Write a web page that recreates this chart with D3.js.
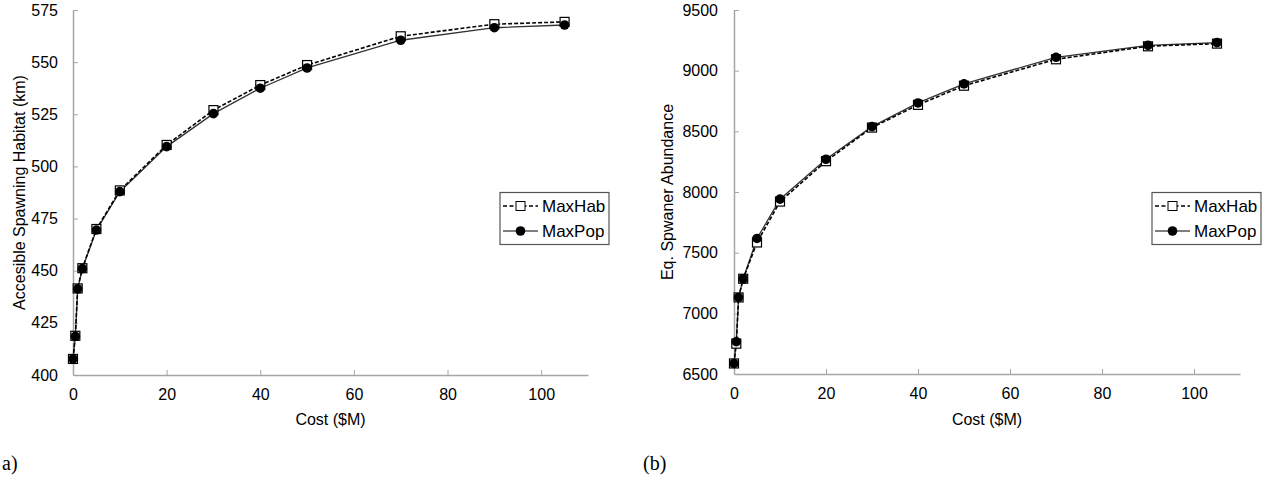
<!DOCTYPE html>
<html>
<head>
<meta charset="utf-8">
<script src="https://cdn.jsdelivr.net/npm/d3@7"></script>
<style>
  body { margin: 0; background: #fff; }
  svg { display: block; }
  .tick text { font-family: "Liberation Sans", Arial, sans-serif; font-size: 16px; fill: #000; }
</style>
</head>
<body>
<svg id="chart" width="1268" height="477"></svg>
<script>
const cost = [0, 0.5, 1, 2, 5, 10, 20, 30, 40, 50, 70, 90, 105];

const habitatMaxHab = [407.7, 418.8, 441.5, 451.2, 470, 488.5, 510.3, 527, 539, 548.6, 562.4, 568.2, 569.3];
const habitatMaxPop = [407.7, 418.5, 441.3, 451, 469.5, 487.9, 509.5, 525.3, 537.5, 547.2, 560.5, 566.5, 567.8];

const abundMaxHab = [6587, 6750, 7131, 7285, 7584, 7921, 8254, 8531, 8718, 8876, 9094, 9201, 9223];
const abundMaxPop = [6587, 6766, 7131, 7285, 7617, 7941, 8270, 8539, 8734, 8891, 9110, 9209, 9231];

const xTicks = [0, 20, 40, 60, 80, 100];
const habitatTicks = [400, 425, 450, 475, 500, 525, 550, 575];
const abundTicks = [6500, 7000, 7500, 8000, 8500, 9000, 9500];

const seriesNames = ["MaxHab", "MaxPop"];

const svg = d3.select("#chart");
const sans = '"Liberation Sans", Arial, sans-serif';

// one panel per measure
const panels = [
  {
    left: 73, right: 588, top: 10, bottom: 375,
    yDomain: [400, 575], yTicks: habitatTicks,
    hab: habitatMaxHab, pop: habitatMaxPop,
    yTitle: "Accesible Spawning Habitat (km)", yTitleX: 25, yPad: 15,
    legendX: 500, tag: "a)", tagX: 2
  },
  {
    left: 734, right: 1240, top: 10, bottom: 374,
    yDomain: [6500, 9500], yTicks: abundTicks,
    hab: abundMaxHab, pop: abundMaxPop,
    yTitle: "Eq. Spwaner Abundance", yTitleX: 673, yPad: 16,
    legendX: 1152, tag: "(b)", tagX: 643
  }
];

panels.forEach((p) => {
  const x = d3.scaleLinear().domain([0, 110]).range([p.left, p.right]);
  const y = d3.scaleLinear().domain(p.yDomain).range([p.bottom, p.top]);

  const g = svg.append("g");

  const xAxis = g.append("g")
    .attr("transform", `translate(0,${p.bottom})`)
    .call(d3.axisBottom(x).tickValues(xTicks).tickFormat(d3.format("d"))
      .tickSize(-5).tickSizeOuter(0).tickPadding(14));

  const yAxis = g.append("g")
    .attr("transform", `translate(${p.left},0)`)
    .call(d3.axisLeft(y).tickValues(p.yTicks).tickFormat(d3.format("d"))
      .tickSize(-5).tickSizeOuter(0).tickPadding(p.yPad));

  [xAxis, yAxis].forEach((a) => {
    a.select(".domain").attr("stroke", "#a6a6a6").attr("stroke-width", 1.5);
    a.selectAll(".tick line").attr("stroke", "#a6a6a6");
  });
  yAxis.selectAll(".tick")
    .filter((d) => d === p.yDomain[0])
    .select("line").remove();
  xAxis.selectAll(".tick")
    .filter((d) => d === 0)
    .select("line").remove();

  g.append("text")
    .attr("x", (p.left + p.right) / 2)
    .attr("y", 425)
    .attr("text-anchor", "middle")
    .style("font-family", sans)
    .style("font-size", "16px")
    .text("Cost ($M)");

  g.append("text")
    .attr("transform", `translate(${p.yTitleX},${(p.top + p.bottom) / 2}) rotate(-90)`)
    .attr("text-anchor", "middle")
    .style("font-family", sans)
    .style("font-size", "16px")
    .text(p.yTitle);

  const habPts = cost.map((c, i) => [c, p.hab[i]]);
  const popPts = cost.map((c, i) => [c, p.pop[i]]);
  const line = d3.line().x((d) => x(d[0])).y((d) => y(d[1]));

  g.append("path")
    .attr("d", line(popPts))
    .attr("fill", "none")
    .attr("stroke", "#333")
    .attr("stroke-width", 1.3);

  g.append("path")
    .attr("d", line(habPts))
    .attr("fill", "none")
    .attr("stroke", "#000")
    .attr("stroke-width", 1.6)
    .attr("stroke-dasharray", "4,2");

  g.selectAll(".sq")
    .data(habPts)
    .enter()
    .append("rect")
    .attr("class", "sq")
    .attr("x", (d) => x(d[0]) - 4.5)
    .attr("y", (d) => y(d[1]) - 4.5)
    .attr("width", 9)
    .attr("height", 9)
    .attr("fill", "#fff")
    .attr("stroke", "#000")
    .attr("stroke-width", 1.2);

  g.selectAll(".dot")
    .data(popPts)
    .enter()
    .append("circle")
    .attr("class", "dot")
    .attr("cx", (d) => x(d[0]))
    .attr("cy", (d) => y(d[1]))
    .attr("r", 4.8)
    .attr("fill", "#000");

  // legend
  const lg = g.append("g").attr("transform", `translate(${p.legendX},192.5)`);
  lg.append("rect")
    .attr("width", 109)
    .attr("height", 52)
    .attr("fill", "#fff")
    .attr("stroke", "#555")
    .attr("stroke-width", 1.2);

  seriesNames.forEach((name, i) => {
    const ly = 13.5 + i * 25;
    lg.append("line")
      .attr("x1", 3).attr("x2", 38)
      .attr("y1", ly).attr("y2", ly)
      .attr("stroke", "#000")
      .attr("stroke-width", i === 0 ? 1.4 : 1.2)
      .attr("stroke-dasharray", i === 0 ? "4,2.5" : null);
    if (i === 0) {
      lg.append("rect")
        .attr("x", 16).attr("y", ly - 4.5)
        .attr("width", 9).attr("height", 9)
        .attr("fill", "#fff").attr("stroke", "#000");
    } else {
      lg.append("circle")
        .attr("cx", 20.5).attr("cy", ly).attr("r", 4.8)
        .attr("fill", "#000");
    }
    lg.append("text")
      .attr("x", 42)
      .attr("y", ly + 6)
      .style("font-family", sans)
      .style("font-size", "17px")
      .text(name);
  });

  g.append("text")
    .attr("x", p.tagX)
    .attr("y", 470)
    .style("font-family", '"Liberation Serif", "DejaVu Serif", serif')
    .style("font-size", "20px")
    .text(p.tag);
});
</script>
</body>
</html>
